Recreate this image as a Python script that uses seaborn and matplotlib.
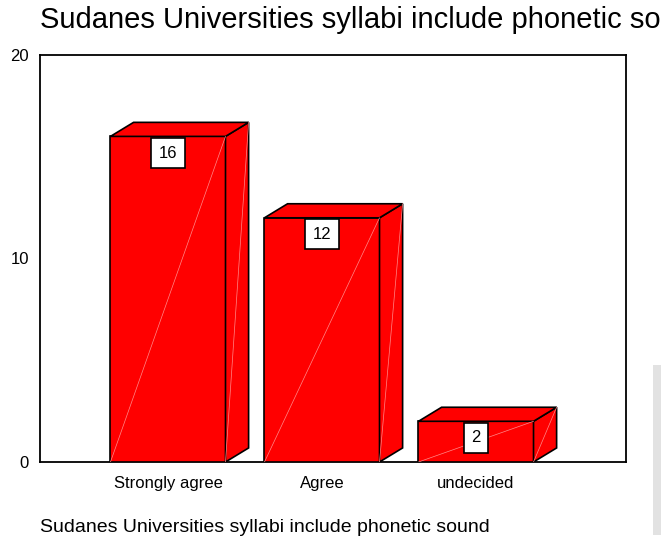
import matplotlib
matplotlib.use("Agg")
import matplotlib.pyplot as plt
import seaborn as sns
import pandas as pd
from matplotlib.patches import Polygon, Rectangle

categories = ["Strongly agree", "Agree", "undecided"]
counts = [16, 12, 2]
yticks = [0, 10, 20]
title = "Sudanes Universities syllabi include phonetic sound"
xlabel = "Sudanes Universities syllabi include phonetic sound"

sns.set_style("white")
plt.rcParams["font.family"] = ["Liberation Sans", "DejaVu Sans"]
plt.rcParams["text.color"] = "black"
plt.rcParams["xtick.color"] = "black"
plt.rcParams["ytick.color"] = "black"

df = pd.DataFrame({"cat": categories, "n": counts})

fig = plt.figure(figsize=(6.61, 5.43), dpi=100)
ax = fig.add_axes([40/661, 1-462/543, (626-40)/661, (462-55)/543])
sns.barplot(data=df, x="cat", y="n", color="#ff0000", saturation=1,
            width=0.747, edgecolor="black", linewidth=1.2, ax=ax, zorder=3)

ax.set_xlim(-0.831, 2.974)
ax.set_ylim(0, 20)
ax.set_yticks(yticks)
ax.set_yticklabels([str(t) for t in yticks], fontsize=12)
ax.tick_params(axis="both", direction="out", length=5, width=1, color="black", pad=3)
ax.tick_params(axis="x", labelsize=12, pad=5)
ax.set_xlabel("")
ax.set_ylabel("")
for s in ax.spines.values():
    s.set_visible(True)
    s.set_color("black")
    s.set_linewidth(1.3)

dx = 0.15   # depth in data x
dy = 0.69   # depth in data y
for p, v in zip(ax.patches, counts):
    x0 = p.get_x(); w = p.get_width(); h = p.get_height()
    x1 = x0 + w
    top = Polygon([(x0, h), (x0 + dx, h + dy), (x1 + dx, h + dy), (x1, h)],
                  closed=True, facecolor="#ff0000", edgecolor="black", lw=1.2, zorder=3)
    side = Polygon([(x1, 0), (x1 + dx, dy), (x1 + dx, h + dy), (x1, h)],
                   closed=True, facecolor="#ff0000", edgecolor="black", lw=1.2, zorder=3)
    ax.add_patch(side)
    ax.add_patch(top)
    ax.plot([x0, x1], [0, h], color="#ff8a8a", lw=0.5, zorder=3.5)
    ax.plot([x1, x1 + dx], [0, h + dy], color="#ff8a8a", lw=0.5, zorder=3.5)
    ax.text(x0 + w / 2, h - 0.45, str(v), ha="center", va="top", fontsize=12,
            zorder=5, bbox=dict(boxstyle="square,pad=0.45", facecolor="white",
                                edgecolor="black", lw=1.2))

fig.text(40/661, 1-20/543, title, fontsize=21, ha="left", va="center")
fig.text(40/661, 1-528/543, xlabel, fontsize=14, ha="left", va="center")

fig.add_artist(Rectangle((653/661, 1-535/543), 8/661, 170/543,
                         transform=fig.transFigure, facecolor="#e2e2e2",
                         edgecolor="none"))

fig.savefig("out.png", dpi=100)
